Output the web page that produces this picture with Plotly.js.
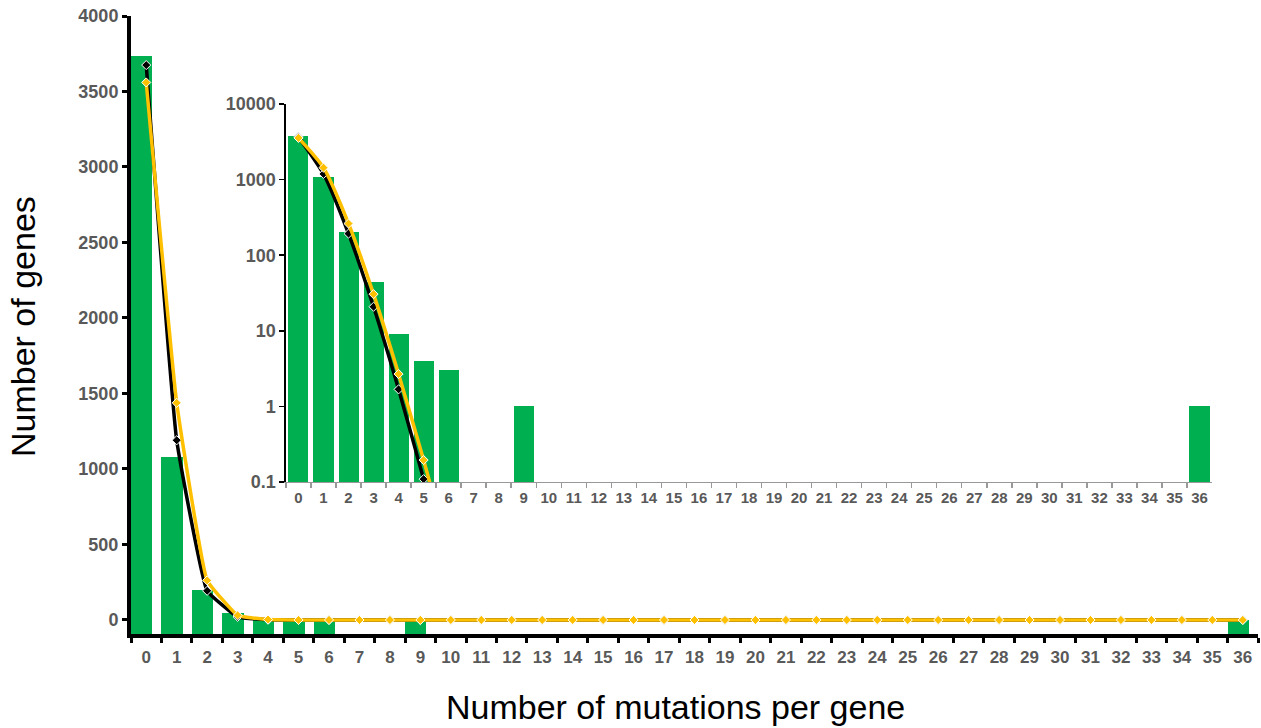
<!DOCTYPE html>
<html>
<head>
<meta charset="utf-8">
<script src="https://cdn.plot.ly/plotly-3.0.1.min.js"></script>
<style>
  html, body { margin: 0; padding: 0; background: #fff; }
  #chart { width: 1261px; height: 728px; }
</style>
</head>
<body>
<div id="chart"></div>
<script>
// ---- data ----
const mutations = [];
for (let i = 0; i <= 36; i++) mutations.push(String(i));

// observed number of genes per mutation count
const geneCounts = [3737, 1080, 200, 44, 9, 4, 3, 0, 0, 1,
                    0, 0, 0, 0, 0, 0, 0, 0, 0, 0,
                    0, 0, 0, 0, 0, 0, 0, 0, 0, 0,
                    0, 0, 0, 0, 0, 0, 1];

// black fitted curve
const fitBlack = [3675, 1190, 193, 20.8, 1.68, 0.109, 0.0059, 0.0003, 0, 0,
                  0, 0, 0, 0, 0, 0, 0, 0, 0, 0,
                  0, 0, 0, 0, 0, 0, 0, 0, 0, 0,
                  0, 0, 0, 0, 0, 0, 0];

// yellow fitted curve
const fitYellow = [3560, 1438, 262, 30.5, 2.68, 0.195, 0.012, 0.0007, 0, 0,
                   0, 0, 0, 0, 0, 0, 0, 0, 0, 0,
                   0, 0, 0, 0, 0, 0, 0, 0, 0, 0,
                   0, 0, 0, 0, 0, 0, 0];

const yTickVals = [0, 500, 1000, 1500, 2000, 2500, 3000, 3500, 4000];
const logTickVals = [0.1, 1, 10, 100, 1000, 10000];
const logTickText = ['0.1', '1', '10', '100', '1000', '10000'];

const xTitle = 'Number of mutations per gene';
const yTitle = 'Number of genes';

// ---- styling ----
const GREEN = '#00B050';
const YELLOW = '#FFC000';
const TICK_COLOR = '#595959';
const Y_MIN = -93;
const FONT = 'Liberation Sans, Arial, sans-serif';

// bars in the main chart rise from the axis line (as in the original)
const mainBarLen = geneCounts.map(v => (v > 0 ? v - Y_MIN : 0));

const traces = [
  {
    type: 'bar', x: mutations, y: mainBarLen, base: Y_MIN,
    xaxis: 'x', yaxis: 'y',
    marker: { color: GREEN, line: { width: 0 } },
    offset: -0.5, width: 0.7, hoverinfo: 'skip', showlegend: false
  },
  {
    type: 'scatter', mode: 'lines+markers', x: mutations, y: fitBlack,
    xaxis: 'x', yaxis: 'y',
    line: { color: '#000', width: 3.5, shape: 'spline', smoothing: 0.3 },
    marker: { symbol: 'diamond', size: 7, color: '#000', line: { color: '#fff', width: 1 } },
    showlegend: false
  },
  {
    type: 'scatter', mode: 'lines+markers', x: mutations, y: fitYellow,
    xaxis: 'x', yaxis: 'y',
    line: { color: YELLOW, width: 3.5, shape: 'spline', smoothing: 0.3 },
    marker: { symbol: 'diamond', size: 7, color: YELLOW, line: { color: '#fff', width: 1 } },
    showlegend: false
  },
  // inset (log scale)
  {
    type: 'bar', x: mutations, y: geneCounts,
    xaxis: 'x2', yaxis: 'y2',
    marker: { color: GREEN, line: { width: 0 } },
    width: 0.8, hoverinfo: 'skip', showlegend: false
  },
  {
    type: 'scatter', mode: 'lines+markers', x: mutations, y: fitBlack,
    xaxis: 'x2', yaxis: 'y2', connectgaps: false,
    line: { color: '#000', width: 3.5, shape: 'spline', smoothing: 0.6 },
    marker: { symbol: 'diamond', size: 7, color: '#000', line: { color: '#fff', width: 1 } },
    showlegend: false
  },
  {
    type: 'scatter', mode: 'lines+markers', x: mutations, y: fitYellow,
    xaxis: 'x2', yaxis: 'y2', connectgaps: false,
    line: { color: YELLOW, width: 3.5, shape: 'spline', smoothing: 0.6 },
    marker: { symbol: 'diamond', size: 7, color: YELLOW, line: { color: '#fff', width: 1 } },
    showlegend: false
  }
];

const layout = {
  width: 1261, height: 728,
  margin: { l: 131, r: 3, t: 16, b: 94 },
  paper_bgcolor: '#fff', plot_bgcolor: 'rgba(0,0,0,0)',
  font: { family: FONT },
  bargap: 0,
  xaxis: {
    domain: [0, 1], anchor: 'y',
    type: 'category', range: [-0.5, 36.5],
    tickson: 'boundaries', ticks: 'outside', ticklen: 5, tickwidth: 3, tickcolor: '#000',
    showline: true, linecolor: '#000', linewidth: 4,
    showgrid: false, zeroline: false, tickangle: 0, ticklabelstandoff: 5,
    tickfont: { family: FONT, size: 17, color: TICK_COLOR, weight: 'bold' }
  },
  yaxis: {
    domain: [0, 1], anchor: 'x',
    range: [Y_MIN, 4000], tickvals: yTickVals,
    ticks: 'outside', ticklen: 5, tickwidth: 3, tickcolor: '#000',
    showline: true, linecolor: '#000', linewidth: 4,
    showgrid: false, zeroline: false,
    tickfont: { family: FONT, size: 18, color: TICK_COLOR, weight: 'bold' }
  },
  xaxis2: {
    domain: [0.1375, 0.9592], anchor: 'y2',
    type: 'category', range: [-0.5, 36.5],
    tickson: 'boundaries', ticks: 'outside', ticklen: 5, tickwidth: 1.5, tickcolor: '#999',
    showline: true, linecolor: '#999', linewidth: 1.5,
    showgrid: false, zeroline: false, tickangle: 0, ticklabelstandoff: 2,
    tickfont: { family: FONT, size: 15, color: TICK_COLOR, weight: 'bold' }
  },
  yaxis2: {
    domain: [0.246, 0.8576], anchor: 'x2',
    type: 'log', range: [-1, 4],
    tickvals: logTickVals, ticktext: logTickText,
    ticks: 'outside', ticklen: 5, tickwidth: 1.5, tickcolor: '#000',
    showline: true, linecolor: '#000', linewidth: 1.5,
    showgrid: false, zeroline: false,
    tickfont: { family: FONT, size: 18, color: TICK_COLOR, weight: 'bold' }
  },
  annotations: [
    {
      text: xTitle, xref: 'paper', yref: 'paper', x: (675 - 131) / 1127, y: (634 - 707) / 618,
      xanchor: 'center', yanchor: 'middle', showarrow: false,
      font: { family: FONT, size: 34, color: '#000' }
    },
    {
      text: yTitle, xref: 'paper', yref: 'paper', x: (23 - 131) / 1127, y: (634 - 327) / 618,
      xanchor: 'center', yanchor: 'middle', showarrow: false, textangle: -90,
      font: { family: FONT, size: 34, color: '#000' }
    }
  ]
};

Plotly.newPlot('chart', traces, layout, { displayModeBar: false, staticPlot: true });
</script>
</body>
</html>
